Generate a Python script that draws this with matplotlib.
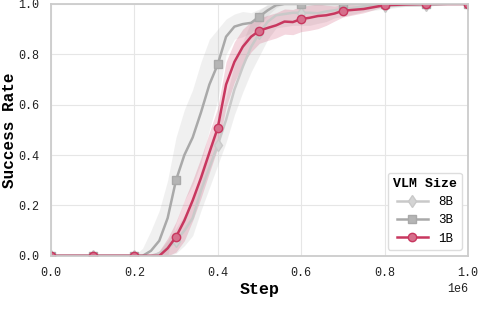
import numpy as np
import matplotlib
matplotlib.use("Agg")
import matplotlib.pyplot as plt

# ---- data (steps in millions) ----
steps_m = [0.00, 0.10, 0.20, 0.22, 0.24, 0.26, 0.28, 0.30, 0.32, 0.34, 0.36, 0.38,
           0.40, 0.42, 0.44, 0.46, 0.48, 0.50, 0.52, 0.54, 0.56, 0.58, 0.60, 0.62,
           0.64, 0.66, 0.68, 0.70, 0.75, 0.80, 0.85, 0.90, 0.95, 1.00]

mean_8b = [0, 0, 0, 0, 0, 0.01, 0.03, 0.06, 0.10, 0.15, 0.26, 0.35,
           0.44, 0.54, 0.66, 0.75, 0.83, 0.885, 0.93, 0.955, 0.96, 0.965, 0.965, 0.965,
           0.963, 0.97, 0.975, 0.98, 0.99, 0.99, 0.995, 0.995, 1.0, 1.0]
std_8b = [0, 0, 0, 0, 0, 0.01, 0.03, 0.05, 0.06, 0.07, 0.08, 0.08,
          0.08, 0.09, 0.10, 0.10, 0.10, 0.09, 0.07, 0.05, 0.05, 0.05, 0.05, 0.05,
          0.04, 0.04, 0.03, 0.03, 0.02, 0.01, 0.005, 0.005, 0, 0]

mean_3b = [0, 0, 0, 0.00, 0.02, 0.06, 0.15, 0.30, 0.40, 0.47, 0.57, 0.68,
           0.76, 0.87, 0.91, 0.92, 0.925, 0.95, 0.975, 0.995, 1.0, 1.0, 1.0, 1.0,
           1.0, 1.0, 1.0, 1.0, 1.0, 1.0, 1.0, 1.0, 1.0, 1.0]
std_3b = [0, 0, 0, 0.03, 0.08, 0.12, 0.15, 0.17, 0.18, 0.19, 0.20, 0.18,
          0.14, 0.07, 0.05, 0.05, 0.04, 0.03, 0.02, 0.01, 0, 0, 0, 0,
          0, 0, 0, 0, 0, 0, 0, 0, 0, 0]

mean_1b = [0, 0, 0, 0, 0, 0.0, 0.03, 0.075, 0.14, 0.22, 0.31, 0.41,
           0.508, 0.68, 0.77, 0.83, 0.87, 0.894, 0.905, 0.915, 0.93, 0.928, 0.94, 0.945,
           0.952, 0.955, 0.962, 0.973, 0.98, 0.995, 0.998, 1.0, 1.0, 1.0]
std_1b = [0, 0, 0, 0, 0, 0.02, 0.04, 0.06, 0.08, 0.08, 0.08, 0.08,
          0.08, 0.09, 0.08, 0.07, 0.06, 0.05, 0.05, 0.05, 0.05, 0.05, 0.05, 0.05,
          0.05, 0.04, 0.03, 0.025, 0.015, 0.005, 0, 0, 0, 0]

labels = ["8B", "3B", "1B"]
means = [mean_8b, mean_3b, mean_1b]
stds = [std_8b, std_3b, std_1b]

# ---- style ----
plt.rcParams['font.family'] = ['Liberation Mono', 'DejaVu Sans']

line_colors = ["#c9c9c9", "#a9a9a9", "#c8375f"]
face_colors = ["#d4d4d4", "#b5b5b5", "#d66f8c"]
band_alpha = [0.28, 0.17, 0.2]
markers = ["d", "s", "o"]
msizes = [6, 6, 6]

fig = plt.figure(figsize=(4.98, 3.28), dpi=100)
ax = fig.add_axes([0.102, 0.22, 0.838, 0.768])

steps = np.array(steps_m) * 1e6
mark_idx = [i for i, s in enumerate(steps_m) if abs(s * 10 - round(s * 10)) < 1e-9]

for lab, m, s, lc, fc, mk, ms, ba in zip(labels, means, stds, line_colors, face_colors,
                                         markers, msizes, band_alpha):
    m = np.array(m)
    s = np.array(s)
    ax.fill_between(steps, np.clip(m - s, 0, 1), np.clip(m + s, 0, 1),
                    color=lc, alpha=ba, linewidth=0)
    ax.plot(steps, m, color=lc, linewidth=1.8, marker=mk, markersize=ms,
            markerfacecolor=fc, markeredgecolor=lc, markeredgewidth=1.0,
            markevery=mark_idx, label=lab)

ax.set_xlim(0, 1e6)
ax.set_ylim(0, 1.0)
ax.set_xticks(np.arange(0, 1.01, 0.2) * 1e6)
ax.set_yticks(np.arange(0, 1.01, 0.2))
ax.grid(True, color="#e6e6e6", linewidth=0.8)
ax.set_axisbelow(True)
for sp in ax.spines.values():
    sp.set_color("#cccccc")
    sp.set_linewidth(1.3)
ax.tick_params(length=0, pad=8, labelsize=8.5, colors="#222222")
ax.xaxis.get_offset_text().set_fontsize(8.5)

ax.set_xlabel("Step", fontsize=12, fontweight="bold", labelpad=2)
ax.set_ylabel("Success Rate", fontsize=11.5, fontweight="bold", labelpad=1)

leg = ax.legend(title="VLM Size", loc="lower right", fontsize=9,
                title_fontproperties={'weight': 'bold', 'size': 9.5},
                frameon=True, fancybox=True, edgecolor="#dddddd", framealpha=1,
                handlelength=2.5, borderaxespad=0.5)

fig.savefig("out.png", dpi=100)
